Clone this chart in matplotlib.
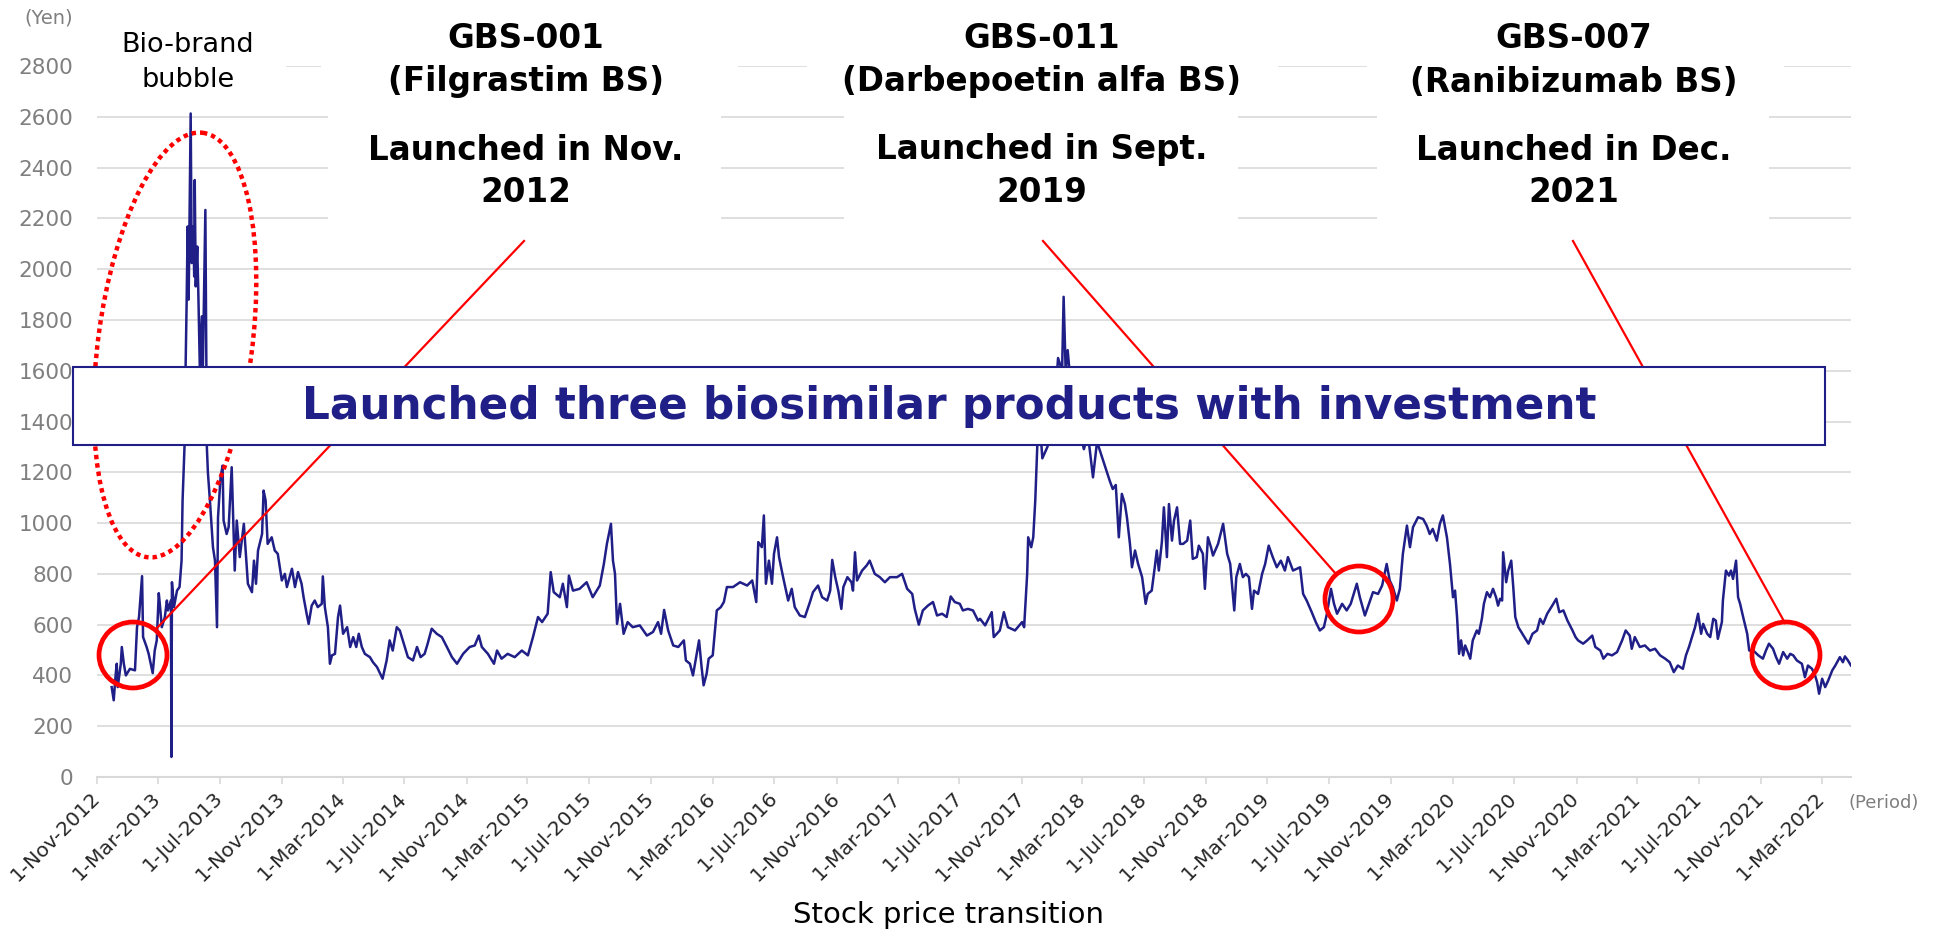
import matplotlib
matplotlib.use('Agg')
import matplotlib.pyplot as plt
from matplotlib.patches import Rectangle, Ellipse
import pandas as pd

plt.rcParams['font.family'] = ['DejaVu Sans']

# stock price readings (yen), (month-day, price) per year
y2012 = [("11-30", 354), ("12-04", 302), ("12-08", 407), ("12-10", 446), ("12-12", 354), ("12-18", 446),
         ("12-20", 512), ("12-24", 446), ("12-28", 400)]
y2013 = [("01-05", 426), ("01-15", 420), ("01-19", 590), ("01-23", 630), ("01-29", 791), ("01-31", 551),
         ("02-07", 512), ("02-11", 485), ("02-19", 409), ("02-23", 498), ("02-27", 538), ("03-03", 724),
         ("03-05", 682), ("03-09", 590), ("03-15", 630), ("03-19", 695), ("03-21", 656), ("03-27", 695),
         ("03-28", 79), ("03-29", 767), ("04-02", 669), ("04-08", 734), ("04-13", 748), ("04-17", 852),
         ("04-19", 1089), ("04-23", 1311), ("04-25", 1617), ("04-27", 1866), ("04-29", 2168), ("05-01", 1880),
         ("05-05", 2613), ("05-07", 2024), ("05-10", 2168), ("05-12", 1971), ("05-13", 2351), ("05-15", 1932),
         ("05-18", 2089), ("05-20", 1919), ("05-23", 1617), ("05-27", 1814), ("05-29", 1600), ("06-03", 2233),
         ("06-05", 1617), ("06-06", 1298), ("06-08", 1200), ("06-12", 1089), ("06-18", 905), ("06-22", 852),
         ("06-26", 590), ("06-28", 1023), ("07-03", 1180), ("07-07", 1226), ("07-09", 1010), ("07-15", 957),
         ("07-19", 984), ("07-25", 1220), ("07-31", 813), ("08-04", 1010), ("08-10", 866), ("08-18", 997),
         ("08-26", 761), ("09-03", 728), ("09-07", 852), ("09-11", 761), ("09-15", 892), ("09-23", 957),
         ("09-26", 1128), ("09-30", 1089), ("10-04", 918), ("10-12", 944), ("10-18", 892), ("10-24", 879),
         ("11-01", 774), ("11-07", 800), ("11-11", 748), ("11-21", 820), ("11-27", 748), ("12-03", 807),
         ("12-10", 761), ("12-14", 708), ("12-20", 643), ("12-24", 603), ("12-30", 675)]
y2014 = [("01-05", 695), ("01-11", 669), ("01-19", 682), ("01-21", 790), ("01-25", 669), ("01-31", 590),
         ("02-04", 446), ("02-08", 479), ("02-14", 485), ("02-20", 630), ("02-24", 675), ("03-02", 564),
         ("03-06", 577), ("03-10", 590), ("03-16", 512), ("03-22", 551), ("03-28", 512), ("04-02", 564),
         ("04-08", 512), ("04-14", 485), ("04-24", 472), ("04-30", 452), ("05-08", 433), ("05-19", 387),
         ("05-27", 459), ("06-02", 538), ("06-08", 498), ("06-16", 590), ("06-22", 577), ("06-30", 525),
         ("07-08", 472), ("07-18", 459), ("07-26", 512), ("08-02", 472), ("08-10", 485), ("08-16", 525),
         ("08-24", 584), ("09-03", 564), ("09-13", 551), ("09-23", 512), ("10-03", 472), ("10-13", 446),
         ("10-25", 485), ("11-07", 512), ("11-17", 518), ("11-25", 557), ("12-01", 512), ("12-13", 485),
         ("12-25", 446), ("12-31", 498)]
y2015 = [("01-09", 466), ("01-21", 485), ("02-04", 472), ("02-18", 498), ("03-02", 479), ("03-12", 551),
         ("03-22", 630), ("03-30", 610), ("04-10", 643), ("04-16", 807), ("04-22", 728), ("05-04", 708),
         ("05-10", 761), ("05-18", 669), ("05-22", 793), ("05-30", 734), ("06-12", 741), ("06-26", 767),
         ("07-08", 708), ("07-22", 754), ("07-30", 839), ("08-05", 918), ("08-13", 997), ("08-17", 852),
         ("08-21", 800), ("08-25", 603), ("08-31", 682), ("09-07", 564), ("09-15", 610), ("09-25", 590),
         ("10-09", 597), ("10-23", 557), ("11-04", 571), ("11-14", 610), ("11-20", 564), ("11-26", 658),
         ("12-04", 577), ("12-14", 518), ("12-24", 512)]
y2016 = [("01-04", 538), ("01-08", 459), ("01-16", 446), ("01-22", 400), ("01-26", 446), ("02-03", 538),
         ("02-08", 433), ("02-12", 361), ("02-18", 407), ("02-22", 466), ("03-01", 479), ("03-09", 656),
         ("03-17", 669), ("03-23", 689), ("03-29", 748), ("04-10", 748), ("04-24", 767), ("05-08", 754),
         ("05-18", 774), ("05-26", 689), ("05-30", 925), ("06-06", 905), ("06-10", 1030), ("06-14", 761),
         ("06-20", 852), ("06-26", 761), ("06-30", 879), ("07-06", 944), ("07-10", 866), ("07-18", 787),
         ("07-28", 695), ("08-04", 741), ("08-10", 669), ("08-20", 636), ("08-30", 630), ("09-09", 689),
         ("09-15", 728), ("09-25", 754), ("10-03", 708), ("10-13", 695), ("10-19", 734), ("10-23", 855),
         ("10-29", 787), ("11-04", 734), ("11-10", 662), ("11-14", 748), ("11-22", 787), ("11-30", 767),
         ("12-03", 734), ("12-07", 885), ("12-11", 774), ("12-21", 813), ("12-30", 833)]
y2017 = [("01-05", 852), ("01-15", 800), ("01-25", 787), ("02-04", 767), ("02-14", 787), ("02-28", 787),
         ("03-10", 800), ("03-20", 741), ("03-30", 721), ("04-04", 662), ("04-12", 600), ("04-20", 656),
         ("04-30", 675), ("05-10", 689), ("05-18", 636), ("05-28", 643), ("06-06", 630), ("06-14", 711),
         ("06-22", 689), ("07-02", 682), ("07-08", 656), ("07-18", 662), ("07-28", 656), ("08-07", 616),
         ("08-11", 623), ("08-21", 597), ("09-03", 649), ("09-07", 551), ("09-19", 577), ("09-27", 649),
         ("10-05", 590), ("10-19", 577), ("11-02", 610), ("11-06", 590), ("11-12", 800), ("11-14", 944),
         ("11-20", 905), ("11-24", 944), ("11-28", 1089), ("12-02", 1305), ("12-06", 1420), ("12-12", 1255),
         ("12-22", 1300), ("12-29", 1350)]
y2018 = [("01-05", 1450), ("01-12", 1650), ("01-20", 1600), ("01-23", 1891), ("01-27", 1600), ("01-31", 1681),
         ("02-08", 1500), ("02-20", 1400), ("03-04", 1291), ("03-12", 1350), ("03-22", 1180), ("03-30", 1320),
         ("04-11", 1246), ("04-24", 1167), ("04-30", 1134), ("05-06", 1150), ("05-12", 944), ("05-18", 1115),
         ("05-24", 1075), ("05-28", 1023), ("06-03", 918), ("06-07", 826), ("06-13", 892), ("06-19", 840),
         ("06-27", 787), ("07-04", 682), ("07-08", 721), ("07-16", 734), ("07-22", 826), ("07-26", 892),
         ("07-30", 813), ("08-05", 925), ("08-09", 1062), ("08-15", 866), ("08-19", 1075), ("08-25", 931),
         ("08-29", 1010), ("09-04", 1062), ("09-10", 918), ("09-16", 918), ("09-24", 931), ("09-30", 1010),
         ("10-05", 859), ("10-13", 866), ("10-17", 911), ("10-25", 879), ("10-29", 741), ("11-04", 944),
         ("11-10", 905), ("11-14", 872), ("11-24", 918), ("12-04", 997), ("12-12", 879), ("12-18", 839),
         ("12-22", 748), ("12-26", 656), ("12-30", 787)]
y2019 = [("01-06", 839), ("01-12", 787), ("01-18", 800), ("01-24", 787), ("01-30", 662), ("02-03", 734),
         ("02-11", 721), ("02-19", 800), ("02-25", 839), ("03-04", 911), ("03-12", 866), ("03-20", 826),
         ("03-28", 852), ("04-05", 813), ("04-11", 866), ("04-21", 813), ("05-05", 826), ("05-11", 721),
         ("05-18", 695), ("05-28", 649), ("06-05", 610), ("06-13", 577), ("06-21", 590), ("06-27", 643),
         ("07-05", 741), ("07-11", 682), ("07-17", 643), ("07-27", 682), ("08-05", 656), ("08-13", 682),
         ("08-17", 708), ("08-25", 761), ("08-31", 708), ("09-10", 636), ("09-18", 682), ("09-26", 728),
         ("10-06", 721), ("10-14", 754), ("10-23", 839), ("10-29", 774), ("11-04", 748), ("11-12", 695),
         ("11-18", 741), ("11-24", 879), ("12-02", 990), ("12-08", 905), ("12-14", 984), ("12-24", 1023)]
y2020 = [("01-03", 1016), ("01-10", 990), ("01-16", 957), ("01-22", 977), ("01-30", 931), ("02-05", 997),
         ("02-11", 1030), ("02-19", 944), ("02-25", 839), ("03-02", 708), ("03-06", 734), ("03-10", 630),
         ("03-14", 485), ("03-18", 538), ("03-22", 479), ("03-26", 518), ("03-30", 498), ("04-05", 466),
         ("04-10", 538), ("04-18", 577), ("04-22", 564), ("04-28", 623), ("05-02", 682), ("05-08", 728),
         ("05-14", 708), ("05-20", 741), ("05-26", 708), ("05-30", 675), ("06-03", 702), ("06-07", 695),
         ("06-09", 885), ("06-15", 767), ("06-19", 813), ("06-25", 852), ("06-29", 748), ("07-03", 630),
         ("07-09", 590), ("07-17", 564), ("07-23", 544), ("07-29", 525), ("08-06", 564), ("08-15", 577),
         ("08-21", 623), ("08-27", 603), ("09-04", 643), ("09-14", 675), ("09-22", 702), ("09-28", 649),
         ("10-06", 656), ("10-14", 616), ("10-24", 577), ("10-30", 551), ("11-04", 538), ("11-14", 525),
         ("11-22", 538), ("12-02", 557), ("12-08", 512), ("12-18", 498), ("12-24", 466)]
y2021 = [("01-01", 485), ("01-10", 479), ("01-20", 492), ("01-30", 538), ("02-06", 577), ("02-14", 557),
         ("02-18", 505), ("02-24", 551), ("03-06", 512), ("03-16", 518), ("03-26", 498), ("04-05", 505),
         ("04-15", 479), ("04-25", 466), ("05-04", 452), ("05-12", 413), ("05-20", 439), ("05-30", 426),
         ("06-05", 479), ("06-11", 512), ("06-17", 551), ("06-23", 590), ("06-29", 643), ("07-05", 564),
         ("07-09", 603), ("07-17", 564), ("07-23", 551), ("07-29", 623), ("08-03", 616), ("08-07", 544),
         ("08-15", 610), ("08-17", 695), ("08-23", 813), ("08-29", 793), ("09-02", 813), ("09-06", 780),
         ("09-12", 852), ("09-16", 708), ("09-20", 682), ("09-26", 630), ("10-04", 564), ("10-08", 498),
         ("10-16", 498), ("10-26", 479), ("11-04", 466), ("11-10", 498), ("11-16", 525), ("11-24", 505),
         ("11-30", 472), ("12-06", 446), ("12-14", 492), ("12-22", 466), ("12-28", 485)]
y2022 = [("01-03", 479), ("01-10", 459), ("01-20", 446), ("01-26", 393), ("02-01", 439), ("02-09", 426),
         ("02-15", 400), ("02-19", 374), ("02-23", 328), ("03-01", 387), ("03-07", 354), ("03-13", 380),
         ("03-21", 420), ("03-27", 439), ("04-05", 472), ("04-11", 452), ("04-15", 475), ("04-21", 459),
         ("04-27", 439)]

years = {2012: y2012, 2013: y2013, 2014: y2014, 2015: y2015, 2016: y2016, 2017: y2017,
         2018: y2018, 2019: y2019, 2020: y2020, 2021: y2021, 2022: y2022}

tick_dates = pd.date_range("2012-11-01", "2022-03-01", freq="4MS")
tick_labels = [f"{d.day}-{d:%b-%Y}" for d in tick_dates]
y_ticks = list(range(0, 2801, 200))

dates, price = [], []
for yr, rows in years.items():
    for md, v in rows:
        dates.append(pd.Timestamp(f"{yr}-{md}"))
        price.append(v)

NAVY = '#1f1f87'
GRID = '#d9d9d9'
GRAY = '#7f7f7f'
RED = '#ff0000'
W, H = 1935, 932

fig = plt.figure(figsize=(W / 100, H / 100), dpi=100)
ax = fig.add_axes([97 / W, 1 - 777 / H, (1851 - 97) / W, (777 - 66) / H])
ax.plot(dates, price, color=NAVY, lw=1.8, zorder=3)
ax.set_ylim(0, 2800)
ax.set_yticks(y_ticks)
ax.set_xlim(pd.Timestamp("2012-11-01"), pd.Timestamp("2022-04-27"))
ax.set_xticks(tick_dates)
ax.set_xticklabels(tick_labels, rotation=45, ha='right', va='center', rotation_mode='anchor',
                   fontsize=14.5, color='#262626')
ax.grid(axis='y', color=GRID, lw=1.2)
ax.set_axisbelow(True)
for s in ['top', 'right', 'left']:
    ax.spines[s].set_visible(False)
ax.spines['bottom'].set_color(GRID)
ax.spines['bottom'].set_linewidth(1.5)
ax.tick_params(axis='y', length=0, pad=17, labelsize=15.5, labelcolor=GRAY)
ax.tick_params(axis='x', length=5, width=1.2, color=GRID, pad=8)

fig.text(49 / W, 1 - 18 / H, '(Yen)', fontsize=14, color=GRAY, ha='center', va='center')
fig.text(1884 / W, 1 - 803 / H, '(Period)', fontsize=13, color=GRAY, ha='center', va='center')
fig.text(948 / W, 1 - 915 / H, 'Stock price transition', fontsize=21, color='black', ha='center', va='center')

# overlay in pixel coordinates for the callouts
ov = fig.add_axes([0, 0, 1, 1], zorder=5)
ov.set_xlim(0, W)
ov.set_ylim(H, 0)
ov.axis('off')

# white text boxes
for x0, x1, y0, y1 in [(97, 286, 25, 105), (321, 738, 8, 100), (328, 721, 100, 240),
                       (807, 1278, 8, 100), (844, 1238, 100, 240),
                       (1367, 1784, 8, 100), (1377, 1769, 100, 240)]:
    ov.add_patch(Rectangle((x0, y0), x1 - x0, y1 - y0, facecolor='white', edgecolor='none', zorder=1))

ov.text(188, 45, 'Bio-brand', fontsize=19.5, ha='center', va='center', zorder=2)
ov.text(188, 80, 'bubble', fontsize=19.5, ha='center', va='center', zorder=2)

notes = [(526, ['GBS-001', '(Filgrastim BS)', 'Launched in Nov.', '2012']),
         (1042, ['GBS-011', '(Darbepoetin alfa BS)', 'Launched in Sept.', '2019']),
         (1574, ['GBS-007', '(Ranibizumab BS)', 'Launched in Dec.', '2021'])]
for cx, lines in notes:
    for ty, s in zip([38, 82, 150, 192], lines):
        ov.text(cx, ty, s, fontsize=23.5, fontweight='bold', ha='center', va='center', zorder=2)

# callout lines and circles
for (x0, y0), (x1, y1) in [((524, 241), (157, 628)), ((1043, 241), (1336, 574)), ((1573, 241), (1785, 623))]:
    ov.plot([x0, x1], [y0, y1], color=RED, lw=1.6, zorder=3)
for cx, cy in [(133, 655), (1359, 599), (1786, 655)]:
    ov.add_patch(Ellipse((cx, cy), 68, 66, facecolor='none', edgecolor=RED, lw=3.4, zorder=3))

ov.add_patch(Ellipse((175, 345), 154, 428, angle=7.5, facecolor='none', edgecolor=RED,
                     lw=3.2, linestyle=(0, (1, 0.9)), zorder=3))

# big banner
ov.add_patch(Rectangle((73, 367), 1825 - 73, 445 - 367, facecolor='white', edgecolor=NAVY, lw=1.5, zorder=4))
ov.text(949, 407, 'Launched three biosimilar products with investment', fontsize=31.5, fontweight='bold',
        color=NAVY, ha='center', va='center', zorder=5)

fig.savefig('out.png', dpi=100)
